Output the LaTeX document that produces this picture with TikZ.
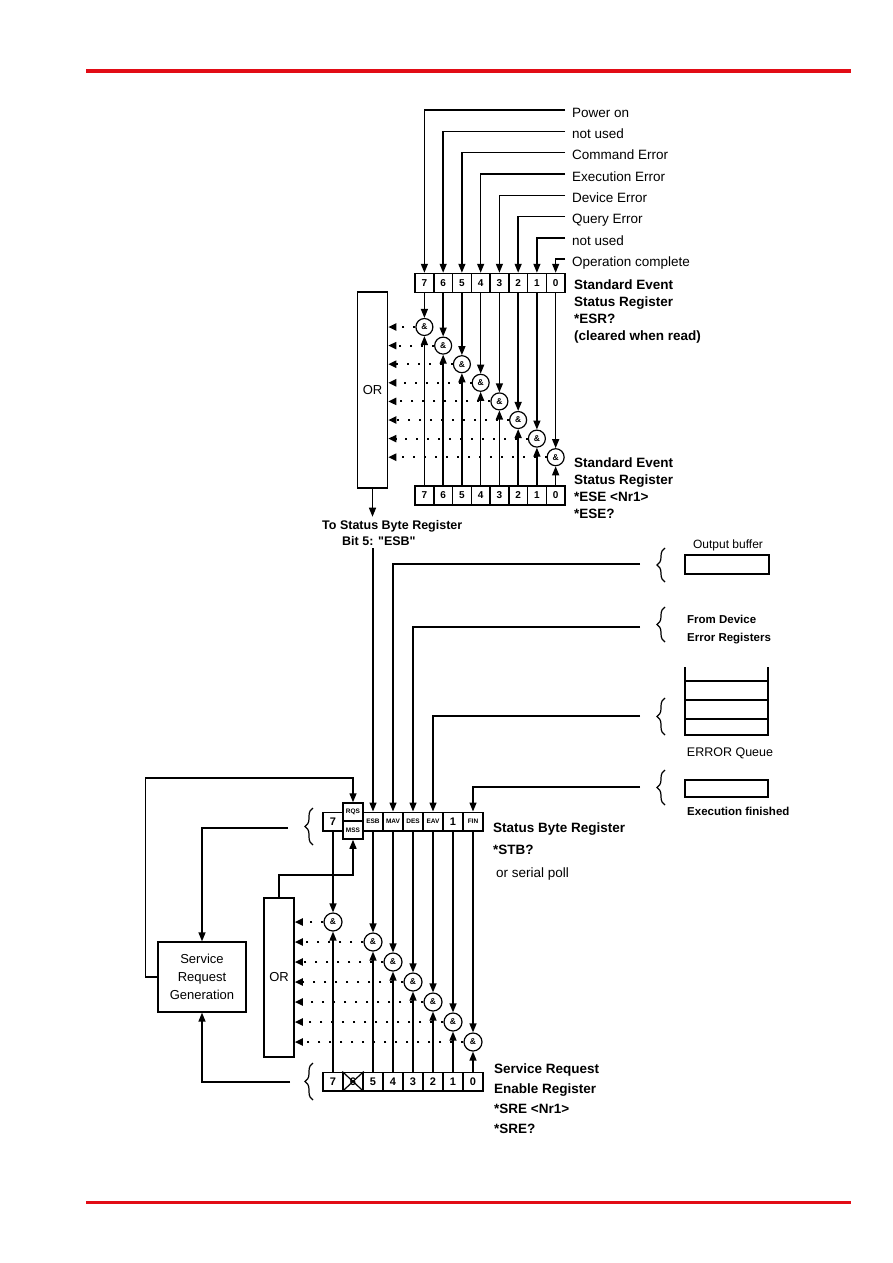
\documentclass[tikz,border=0pt]{standalone}
\usepackage{fontspec}
\setmainfont{Liberation Sans}[Ligatures=TeXOff]
\usetikzlibrary{arrows.meta,decorations.pathreplacing}
\definecolor{rulered}{RGB}{226,12,22}

\begin{document}
\begin{tikzpicture}[
        x=1pt, y=-1pt,
        font=\fontsize{13.5}{16.5}\selectfont,
        >={Triangle[length=9pt,width=7pt]},
        cell/.style={draw, line width=1.5pt, minimum width=18.75pt, minimum height=19pt, inner sep=0pt, font=\bfseries\fontsize{10}{10}\selectfont},
        sbcell/.style={draw, line width=1.5pt, minimum width=20pt, minimum height=18.5pt, inner sep=0pt, font=\bfseries\fontsize{11}{11}\selectfont},
        tiny/.style={font=\bfseries\fontsize{6.5}{6.5}\selectfont},
        gate/.style={circle, draw, line width=1.2pt, minimum size=17pt, inner sep=0pt, font=\bfseries\fontsize{8.5}{8.5}\selectfont},
        orbox/.style={draw, line width=1.5pt, minimum width=30pt, inner sep=0pt, font=\fontsize{13}{13}\selectfont},
        box/.style={draw, line width=1.3pt, inner sep=0pt},
        lbl/.style={anchor=west, inner xsep=7pt, inner ysep=0pt, text height=14.5pt, text depth=0pt},
        head/.style={anchor=base west, align=left, inner sep=0pt, font=\bfseries\fontsize{13.5}{17}\selectfont},
        small/.style={anchor=base west, align=left, inner sep=0pt, font=\bfseries\fontsize{11.5}{18}\selectfont},
        sig/.style={line width=1.4pt, ->},
        dots/.style={line width=2pt, dash pattern=on 2pt off 9pt, -{Triangle[length=8pt,width=7pt]}},
        brc/.style={decorate, decoration={brace, amplitude=8pt}, line width=1.2pt}
    ]
        \useasboundingbox (0,0) rectangle (893,1263);
        \draw[rulered, line width=3pt] (86,71) -- (851,71);
        \draw[rulered, line width=3pt] (86,1202) -- (851,1202);

        % standard event status register
        \foreach \b/\txt [count=\k from 0] in {7/Power on, 6/not used, 5/Command Error, 4/Execution Error, 3/Device Error, 2/Query Error, 1/not used, 0/Operation complete}
            \node[lbl] (in\b) at (565, {110+21.3*\k}) {\txt};
        \node[orbox, minimum height=196pt] (or1) at (372.5,390) {OR};
        \foreach \b in {7,...,0} {
            \node[cell] (esr\b) at ({424.4+18.75*(7-\b)}, 283) {\b};
            \node[cell] (ese\b) at ({424.4+18.75*(7-\b)}, 495.5) {\b};
            \node[gate] (ge\b) at ({424.4+18.75*(7-\b)}, {327+18.6*(7-\b)}) {\&};
            \draw[sig] (in\b.west) -| (esr\b.north);
            \draw[sig] (esr\b.south) -- (ge\b.north);
            \draw[sig] (ese\b.north) -- (ge\b.south);
            \draw[dots] (ge\b.west) -- (ge\b.west -| or1.east);
        }
        \node[head] (esrtxt) at (574,340) {Standard Event\\Status Register\\*ESR?\\(cleared when read)};
        \node[head] (esetxt) at (574,518) {Standard Event\\Status Register\\*ESE <Nr1>\\*ESE?};
        \node[anchor=base west, align=left, inner xsep=0pt, inner ysep=3pt, font=\bfseries\fontsize{12.5}{16}\selectfont] (tosb) at (322,545) {To Status Byte Register\\\hspace*{20pt}Bit 5: "ESB"};
        \draw[sig] (or1.south) -- (or1.south |- tosb.north);

        % status byte register
        \node[sbcell] (sb7) at (333,821.5) {7};
        \node[sbcell, tiny, minimum height=18pt] (rqs) at (353,812) {RQS};
        \node[sbcell, tiny, minimum height=18pt] (mss) at (353,830) {MSS};
        \node[sbcell, tiny] (sb5) at (373,821.5) {ESB};
        \node[sbcell, tiny] (sb4) at (393,821.5) {MAV};
        \node[sbcell, tiny] (sb3) at (413,821.5) {DES};
        \node[sbcell, tiny] (sb2) at (433,821.5) {EAV};
        \node[sbcell] (sb1) at (453,821.5) {1};
        \node[sbcell, tiny] (sb0) at (473,821.5) {FIN};
        \node[head, font=\bfseries\fontsize{13.5}{22.5}\selectfont] (sbtxt) at (493,877) {Status Byte Register\\*STB?\\\mdseries\hspace*{3pt}or serial poll};
        \draw[sig] (tosb.south -| sb5.north) -- (sb5.north);

        % sources on the right
        \node[font=\fontsize{12}{12}\selectfont] (obtxt) at (728,545) {Output buffer};
        \node[box, minimum width=84pt, minimum height=19pt] (obuf) at (727,564.5) {};
        \node[small] (devtxt) at (687,641) {From Device\\Error Registers};
        \draw[line width=2pt] (685,667) -- (685,735) -- (768,735) -- (768,667);
        \foreach \y in {681,700,719}
            \draw[line width=2pt] (685,\y) -- (768,\y);
        \node[font=\fontsize{12.5}{12.5}\selectfont] (eqtxt) at (730,753) {ERROR Queue};
        \node[box, minimum width=83pt, minimum height=17pt] (exbox) at (726.5,788.5) {};
        \node[small] (extxt) at (687,815) {Execution finished};
        \draw[brc] (665,582) -- (665,548);
        \draw[brc] (665,642) -- (665,607);
        \draw[brc] (665,735) -- (665,698);
        \draw[brc] (665,805) -- (665,770);
        \coordinate (obin) at (640,564);
        \coordinate (dein) at (640,627);
        \coordinate (eqin) at (640,716);
        \coordinate (efin) at (640,787);
        \draw[sig] (obin) -| (sb4.north);
        \draw[sig] (dein) -| (sb3.north);
        \draw[sig] (eqin) -| (sb2.north);
        \draw[sig] (efin) -| (sb0.north);

        % service request enable register
        \node[sbcell] (sre7) at (333,1081.5) {7};
        \node[sbcell] (sre6) at (353,1081.5) {6};
        \draw[line width=1.2pt] (sre6.north west) -- (sre6.south east) (sre6.north east) -- (sre6.south west);
        \foreach \b in {5,...,0}
            \node[sbcell] (sre\b) at ({333+20*(7-\b)},1081.5) {\b};
        \node[head, font=\bfseries\fontsize{13.5}{20}\selectfont] (sretxt) at (494,1133) {Service Request\\Enable Register\\*SRE <Nr1>\\*SRE?};

        \node[orbox, minimum height=159pt] (or2) at (279,977.5) {OR};
        \foreach \b/\k in {7/0,5/1,4/2,3/3,2/4,1/5,0/6} {
            \node[gate, minimum size=18pt] (gb\b) at ({333+20*(7-\b)}, {922+20*\k}) {\&};
            \draw[sig] (sb\b.south) -- (gb\b.north);
            \draw[sig] (sre\b.north) -- (gb\b.south);
            \draw[dots] (gb\b.west) -- (gb\b.west -| or2.east);
        }

        % service request generation
        \node[box, minimum width=88pt, minimum height=70pt, align=center, font=\fontsize{13}{18}\selectfont] (srg) at (202,977) {Service\\Request\\Generation};
        \draw[brc] (313,845) -- (313,808);
        \draw[brc] (313,1100) -- (313,1063);
        \coordinate (sbtap) at (288,828);
        \coordinate (sretap) at (290,1082);
        \coordinate (rqstop) at (353,778);
        \coordinate (msslow) at (353,875);
        \draw[sig] (sbtap) -| (srg.north);
        \draw[sig] (sretap) -| (srg.south);
        \draw[sig] (srg.west) -- ++(-12,0) |- (rqstop) -- (rqs.north);
        \draw[sig] (or2.north) |- (msslow) -- (mss.south);
    \end{tikzpicture}
\end{document}
